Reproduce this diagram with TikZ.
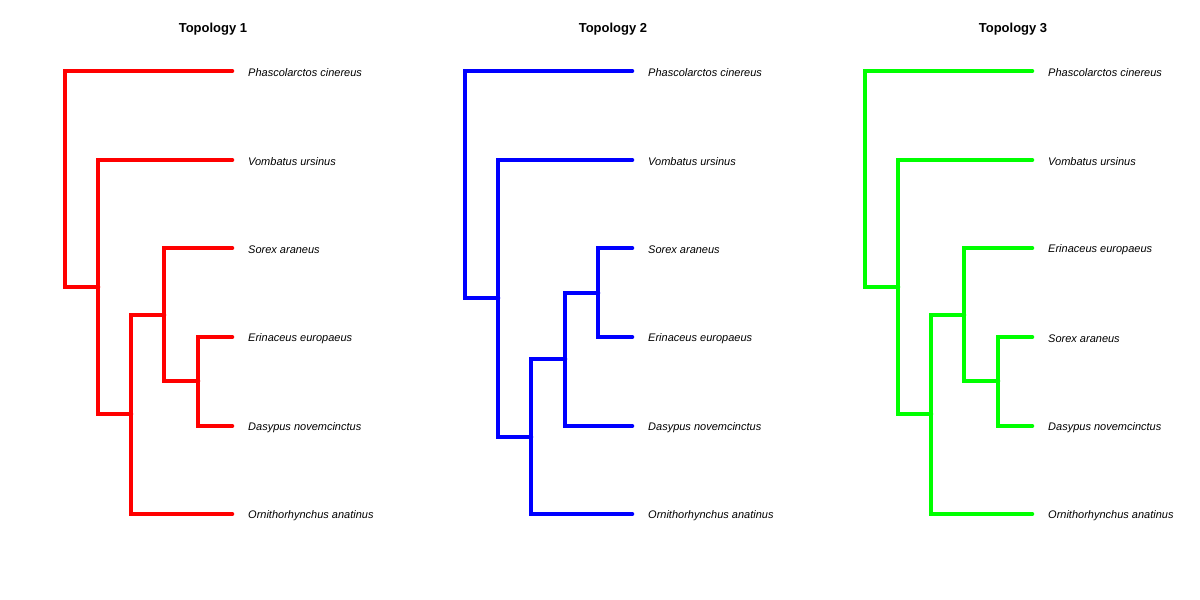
\documentclass[tikz,border=0pt]{standalone}
\usepackage{fontspec}
\setmainfont{Liberation Sans}
\usepackage{tikz}
\usepackage{xcolor}
\usetikzlibrary{positioning}

\definecolor{treered}{RGB}{255,0,0}
\definecolor{treeblue}{RGB}{0,0,255}
\definecolor{treegreen}{RGB}{0,255,0}

\begin{document}
\begin{tikzpicture}[x=1pt,y=-1pt,
  branch/.style={line width=4.6pt,line cap=round,line join=miter},
  taxon/.style={font=\fontsize{11}{13}\selectfont\itshape,inner sep=2pt,anchor=west,yshift=-1.5pt},
  heading/.style={font=\fontsize{13}{15}\selectfont\bfseries}]
\useasboundingbox (0,0) rectangle (1200,600);

% Topology 1
\node[heading] (h1) at (213,29) {Topology 1};
\coordinate (a1) at (232,71);
\coordinate (a2) at (232,160);
\coordinate (a3) at (232,248);
\coordinate (a4) at (232,337);
\coordinate (a5) at (232,426);
\coordinate (a6) at (232,514);
\coordinate (ar) at (65,287);
\coordinate (an1) at (98,414);
\coordinate (an2) at (131,315);
\coordinate (an3) at (164,381);
\coordinate (ar') at (98,287);
\coordinate (an1') at (131,414);
\coordinate (an2') at (164,315);
\coordinate (an3') at (198,381);
\draw[branch,treered] (a1) -- (ar |- a1) -- (ar) -- (ar');
\draw[branch,treered] (a2) -- (ar' |- a2) -- (an1) -- (an1');
\draw[branch,treered] (a6) -- (an1' |- a6) -- (an2 |- an2') -- (an2');
\draw[branch,treered] (a3) -- (an2' |- a3) -- (an3) -- (an3');
\draw[branch,treered] (a4) -- (an3' |- a4) -- (an3' |- a5) -- (a5);
\node[taxon,right=14pt of a1] (l11) {Phascolarctos cinereus};
\node[taxon,right=14pt of a2] (l12) {Vombatus ursinus};
\node[taxon,right=14pt of a3] (l13) {Sorex araneus};
\node[taxon,right=14pt of a4] (l14) {Erinaceus europaeus};
\node[taxon,right=14pt of a5] (l15) {Dasypus novemcinctus};
\node[taxon,right=14pt of a6] (l16) {Ornithorhynchus anatinus};

% Topology 2
\node[heading] (h2) at (613,29) {Topology 2};
\coordinate (b1) at (632,71);
\coordinate (b2) at (632,160);
\coordinate (b3) at (632,248);
\coordinate (b4) at (632,337);
\coordinate (b5) at (632,426);
\coordinate (b6) at (632,514);
\coordinate (br) at (465,298);
\coordinate (bn1) at (498,437);
\coordinate (bn2) at (531,359);
\coordinate (bn3) at (565,293);
\coordinate (br') at (498,298);
\coordinate (bn1') at (531,437);
\coordinate (bn2') at (565,359);
\coordinate (bn3') at (598,293);
\draw[branch,treeblue] (b1) -- (br |- b1) -- (br) -- (br');
\draw[branch,treeblue] (b2) -- (br' |- b2) -- (bn1) -- (bn1');
\draw[branch,treeblue] (b6) -- (bn1' |- b6) -- (bn2) -- (bn2');
\draw[branch,treeblue] (b5) -- (bn2' |- b5) -- (bn3) -- (bn3');
\draw[branch,treeblue] (b3) -- (bn3' |- b3) -- (bn3' |- b4) -- (b4);
\node[taxon,right=14pt of b1] (l21) {Phascolarctos cinereus};
\node[taxon,right=14pt of b2] (l22) {Vombatus ursinus};
\node[taxon,right=14pt of b3] (l23) {Sorex araneus};
\node[taxon,right=14pt of b4] (l24) {Erinaceus europaeus};
\node[taxon,right=14pt of b5] (l25) {Dasypus novemcinctus};
\node[taxon,right=14pt of b6] (l26) {Ornithorhynchus anatinus};

% Topology 3
\node[heading] (h3) at (1013,29) {Topology 3};
\coordinate (c1) at (1032,71);
\coordinate (c2) at (1032,160);
\coordinate (c3) at (1032,248);
\coordinate (c4) at (1032,337);
\coordinate (c5) at (1032,426);
\coordinate (c6) at (1032,514);
\coordinate (cr) at (865,287);
\coordinate (cn1) at (898,414);
\coordinate (cn2) at (931,315);
\coordinate (cn3) at (964,381);
\coordinate (cr') at (898,287);
\coordinate (cn1') at (931,414);
\coordinate (cn2') at (964,315);
\coordinate (cn3') at (998,381);
\draw[branch,treegreen] (c1) -- (cr |- c1) -- (cr) -- (cr');
\draw[branch,treegreen] (c2) -- (cr' |- c2) -- (cn1) -- (cn1');
\draw[branch,treegreen] (c6) -- (cn1' |- c6) -- (cn2 |- cn2') -- (cn2');
\draw[branch,treegreen] (c3) -- (cn2' |- c3) -- (cn3) -- (cn3');
\draw[branch,treegreen] (c4) -- (cn3' |- c4) -- (cn3' |- c5) -- (c5);
\node[taxon,right=14pt of c1] (l31) {Phascolarctos cinereus};
\node[taxon,right=14pt of c2] (l32) {Vombatus ursinus};
\node[taxon,right=14pt of c3] (l33) {Erinaceus europaeus};
\node[taxon,right=14pt of c4] (l34) {Sorex araneus};
\node[taxon,right=14pt of c5] (l35) {Dasypus novemcinctus};
\node[taxon,right=14pt of c6] (l36) {Ornithorhynchus anatinus};
\end{tikzpicture}
\end{document}
